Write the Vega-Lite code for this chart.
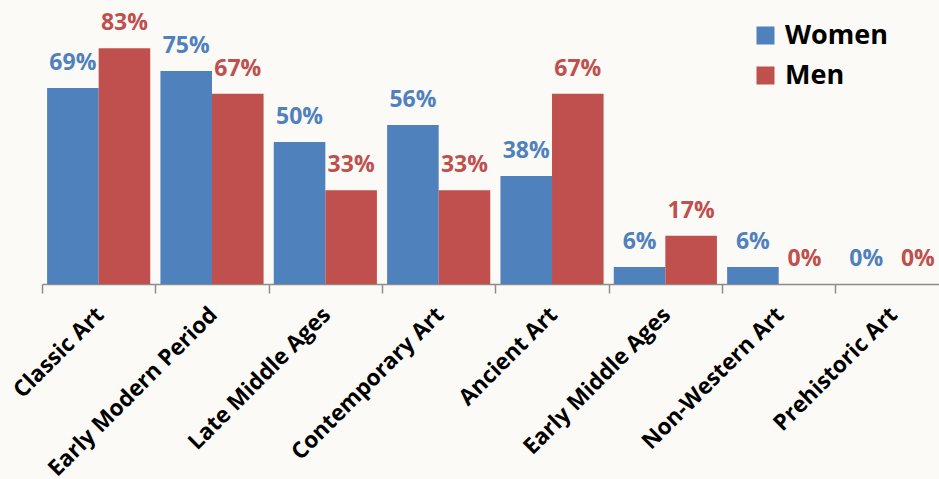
{
  "$schema": "https://vega.github.io/schema/vega-lite/v6.json",
  "autosize": {"type": "none"},
  "width": 897,
  "height": 284,
  "padding": {"left": 42, "top": 0, "right": 0, "bottom": 195},
  "background": "#FBFAF6",
  "config": {"view": {"stroke": null}, "font": "Open Sans"},
  "data": {
    "values": [
      {"period": "Classic Art", "sex": "Women", "value": 0.69},
      {"period": "Classic Art", "sex": "Men", "value": 0.83},
      {"period": "Early Modern Period", "sex": "Women", "value": 0.75},
      {"period": "Early Modern Period", "sex": "Men", "value": 0.67},
      {"period": "Late Middle Ages", "sex": "Women", "value": 0.50},
      {"period": "Late Middle Ages", "sex": "Men", "value": 0.33},
      {"period": "Contemporary Art", "sex": "Women", "value": 0.56},
      {"period": "Contemporary Art", "sex": "Men", "value": 0.33},
      {"period": "Ancient Art", "sex": "Women", "value": 0.38},
      {"period": "Ancient Art", "sex": "Men", "value": 0.67},
      {"period": "Early Middle Ages", "sex": "Women", "value": 0.06},
      {"period": "Early Middle Ages", "sex": "Men", "value": 0.17},
      {"period": "Non-Western Art", "sex": "Women", "value": 0.06},
      {"period": "Non-Western Art", "sex": "Men", "value": 0.0},
      {"period": "Prehistoric Art", "sex": "Women", "value": 0.0},
      {"period": "Prehistoric Art", "sex": "Men", "value": 0.0}
    ]
  },
  "encoding": {
    "x": {
      "field": "period", "type": "nominal", "sort": null,
      "scale": {"range": [0, 906.7], "paddingInner": 0.09, "paddingOuter": 0.045},
      "axis": {
        "title": null, "labelAngle": -45, "labelFontSize": 22.5, "labelFontWeight": "bold",
        "labelColor": "#000000", "labelLimit": 400,
        "domainColor": "#8C8C8C", "domainWidth": 1.5,
        "tickColor": "#8C8C8C", "tickWidth": 1.5, "tickSize": 9,
        "tickOffset": -56.67, "labelOffset": 50, "labelPadding": 10
      }
    },
    "xOffset": {"field": "sex", "type": "nominal", "sort": ["Women", "Men"], "scale": {"paddingInner": 0, "paddingOuter": 0}},
    "y": {"field": "value", "type": "quantitative", "scale": {"domain": [0, 1]}, "axis": null},
    "color": {
      "field": "sex", "type": "nominal", "sort": ["Women", "Men"],
      "scale": {"domain": ["Women", "Men"], "range": ["#4F81BD", "#C0504D"]},
      "legend": {
        "title": null, "orient": "none", "legendX": 710, "legendY": 22,
        "symbolType": "square", "symbolSize": 324, "symbolStrokeWidth": 0,
        "labelFontSize": 27, "labelFontWeight": "bold", "labelColor": "#000000",
        "rowPadding": 12, "labelOffset": 6
      }
    }
  },
  "layer": [
    {"mark": {"type": "bar"}},
    {
      "mark": {"type": "text", "baseline": "alphabetic", "dy": -18, "fontSize": 23, "fontWeight": "bold"},
      "encoding": {"text": {"field": "value", "type": "quantitative", "format": ".0%"}}
    }
  ]
}
